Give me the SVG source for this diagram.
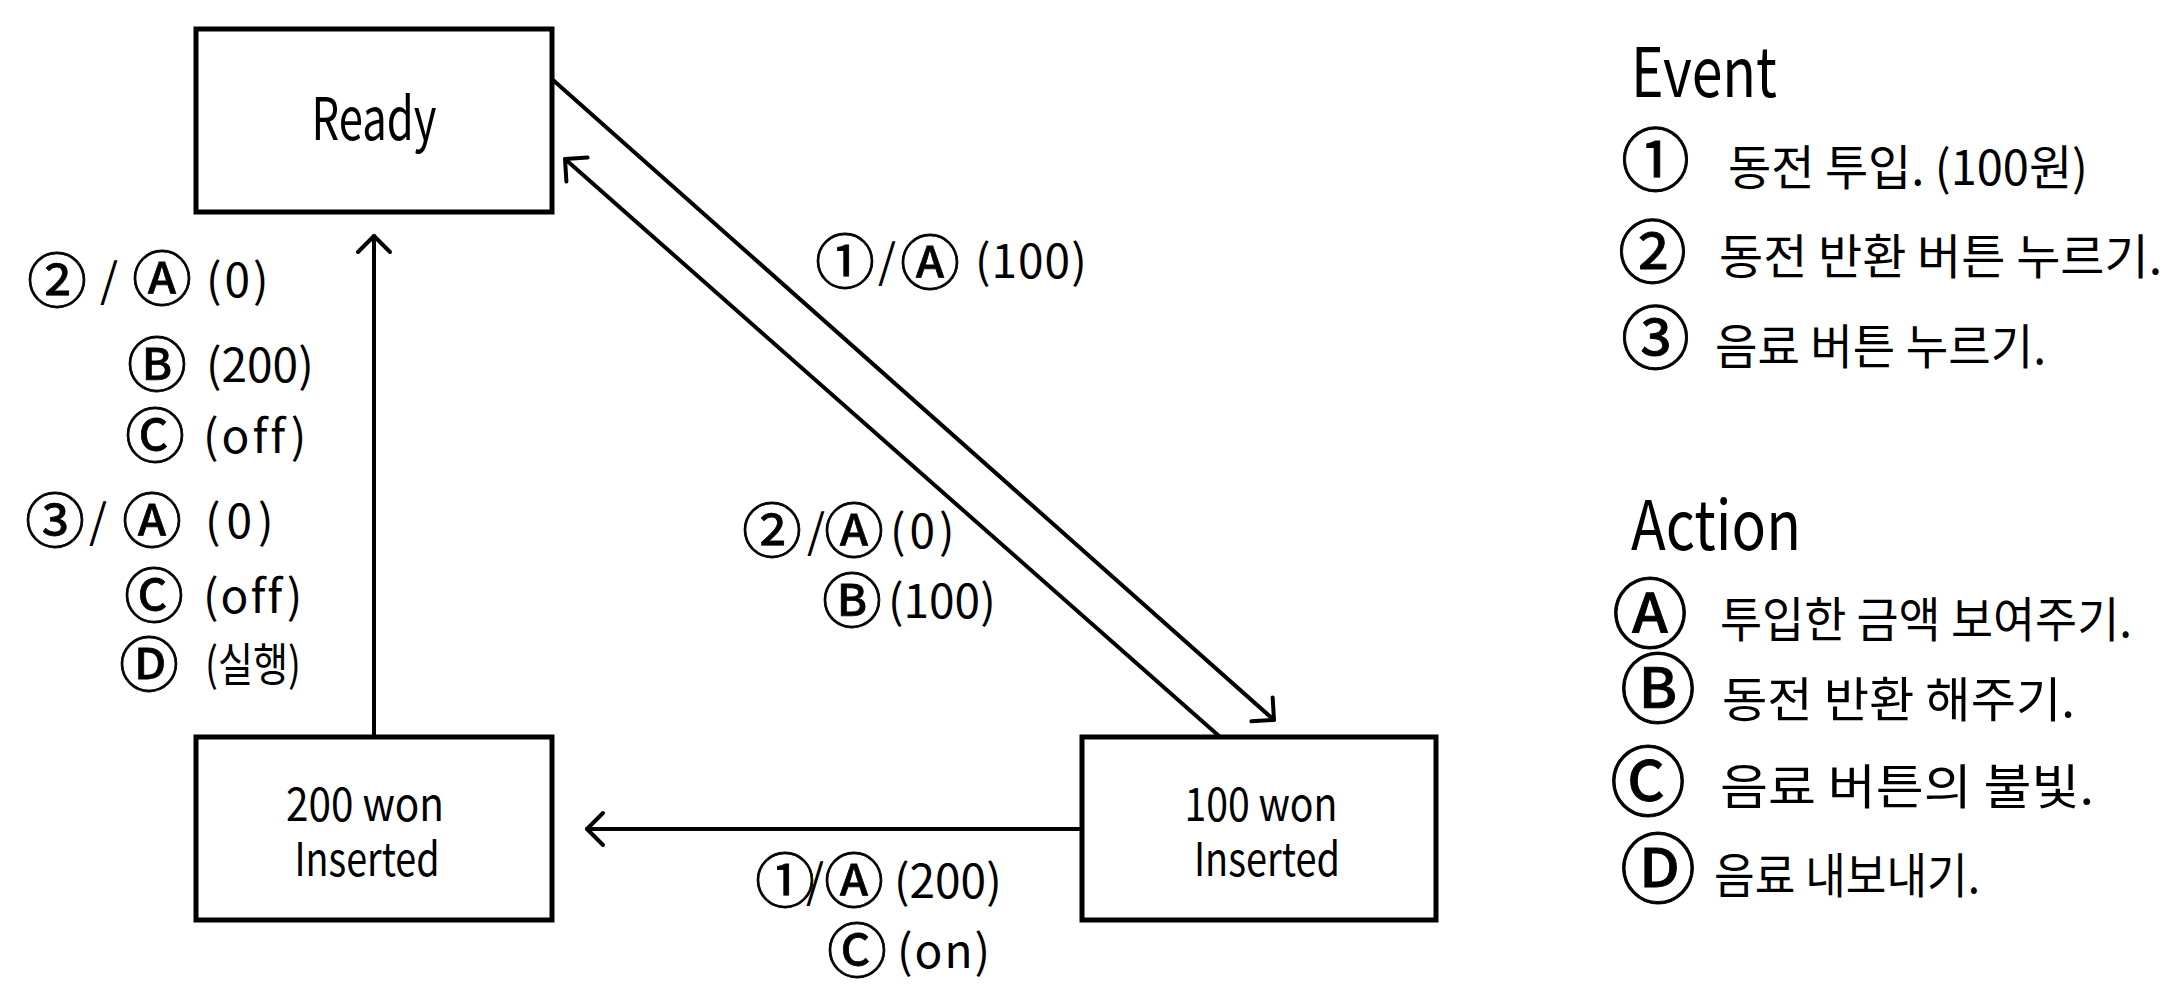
<svg xmlns="http://www.w3.org/2000/svg" width="2177" height="1000" viewBox="0 0 2177 1000">
<style>
.box{fill:#fff;stroke:#000;stroke-width:5}
.edge{fill:none;stroke:#000;stroke-width:4;stroke-linecap:round}
text{font-family:"Noto Sans CJK KR","Noto Sans",sans-serif;fill:#000}
.nt{font-size:59px}
.nt2{font-size:46px}
.lbl{font-size:46px}
.c{font-size:60px;stroke:#000;stroke-width:0.8}
.ttl{font-size:68px}
.lg{font-size:48px}
.lc{font-size:69px;stroke:#000;stroke-width:0.9}
.la{font-size:76px;stroke:#000;stroke-width:1}
</style>
<defs>
<marker id="arr" viewBox="-25 -25 50 50" refX="0" refY="0" markerWidth="50" markerHeight="50" markerUnits="userSpaceOnUse" orient="auto">
<path d="M-16 -16 L0 0 L-16 16" fill="none" stroke="#000" stroke-width="4" stroke-linecap="round" stroke-linejoin="round"/>
</marker>
</defs>
<rect width="2177" height="1000" fill="#fff"/>

<g id="connectors">
<line class="edge" x1="374" y1="737" x2="374" y2="236" marker-end="url(#arr)"/>
<line class="edge" x1="1082" y1="829" x2="587" y2="829" marker-end="url(#arr)"/>
<line class="edge" x1="553" y1="80" x2="1274" y2="720" marker-end="url(#arr)"/>
<line class="edge" x1="1219" y1="736" x2="565" y2="159" marker-end="url(#arr)"/>
</g>

<g id="node-ready">
<rect class="box" x="196" y="29" width="356" height="183"/>
<text class="nt" x="374" y="140" text-anchor="middle" textLength="125" lengthAdjust="spacingAndGlyphs">Ready</text>
</g>
<g id="node-200won">
<rect class="box" x="196" y="737" width="356" height="183"/>
<text class="nt2" x="365" y="821" text-anchor="middle" textLength="158" lengthAdjust="spacingAndGlyphs">200 won</text>
<text class="nt2" x="367" y="876" text-anchor="middle" textLength="145" lengthAdjust="spacingAndGlyphs">Inserted</text>
</g>
<g id="node-100won">
<rect class="box" x="1082" y="737" width="354" height="183"/>
<text class="nt2" x="1261" y="821" text-anchor="middle" textLength="153" lengthAdjust="spacingAndGlyphs">100 won</text>
<text class="nt2" x="1267" y="876" text-anchor="middle" textLength="146" lengthAdjust="spacingAndGlyphs">Inserted</text>
</g>

<g id="labels">
<text class="lbl"><tspan class="c" x="27" y="303">②</tspan><tspan x="100" y="297">/</tspan><tspan class="c" x="132" y="301">Ⓐ</tspan><tspan x="206" y="297" letter-spacing="3">(0)</tspan></text>
<text class="lbl"><tspan class="c" x="127" y="387">Ⓑ</tspan><tspan x="206" y="382">(200)</tspan></text>
<text class="lbl"><tspan class="c" x="125" y="458">Ⓒ</tspan><tspan x="203" y="453" letter-spacing="3">(off)</tspan></text>
<text class="lbl"><tspan class="c" x="25" y="543">③</tspan><tspan x="89" y="538">/</tspan><tspan class="c" x="122" y="543">Ⓐ</tspan><tspan x="205" y="538" letter-spacing="6">(0)</tspan></text>
<text class="lbl"><tspan class="c" x="124" y="618">Ⓒ</tspan><tspan x="203" y="613" letter-spacing="2">(off)</tspan></text>
<text class="lbl"><tspan class="c" x="119" y="687">Ⓓ</tspan><tspan x="205" y="681" textLength="96" lengthAdjust="spacingAndGlyphs">(실행)</tspan></text>

<text class="lbl"><tspan class="c" x="815" y="284">①</tspan><tspan x="878" y="278">/</tspan><tspan class="c" x="900" y="285">Ⓐ</tspan><tspan x="975" y="278" letter-spacing="1">(100)</tspan></text>
<text class="lbl"><tspan class="c" x="742" y="553">②</tspan><tspan x="807" y="548">/</tspan><tspan class="c" x="824" y="553">Ⓐ</tspan><tspan x="890" y="548" letter-spacing="4">(0)</tspan></text>
<text class="lbl"><tspan class="c" x="822" y="623">Ⓑ</tspan><tspan x="888" y="618">(100)</tspan></text>
<text class="lbl"><tspan class="c" x="755" y="903">①</tspan><tspan x="806" y="898">/</tspan><tspan class="c" x="824" y="903">Ⓐ</tspan><tspan x="894" y="898">(200)</tspan></text>
<text class="lbl"><tspan class="c" x="827" y="973">Ⓒ</tspan><tspan x="897" y="968" letter-spacing="2">(on)</tspan></text>
</g>

<g id="legend-event">
<text class="ttl" x="1631" y="97" textLength="146" lengthAdjust="spacingAndGlyphs">Event</text>
<text class="lc" x="1621" y="186">①</text>
<text class="lg" x="1728" y="185" textLength="360" lengthAdjust="spacingAndGlyphs">동전 투입. (100원)</text>
<text class="lc" x="1618" y="278">②</text>
<text class="lg" x="1719" y="274" textLength="443" lengthAdjust="spacingAndGlyphs">동전 반환 버튼 누르기.</text>
<text class="lc" x="1621" y="364">③</text>
<text class="lg" x="1715" y="364" textLength="331" lengthAdjust="spacingAndGlyphs">음료 버튼 누르기.</text>
</g>
<g id="legend-action">
<text class="ttl" x="1631" y="550" textLength="170" lengthAdjust="spacingAndGlyphs">Action</text>
<text class="la" x="1612" y="642">Ⓐ</text>
<text class="lg" x="1720" y="637" textLength="412" lengthAdjust="spacingAndGlyphs">투입한 금액 보여주기.</text>
<text class="la" x="1620" y="717">Ⓑ</text>
<text class="lg" x="1722" y="717" textLength="353" lengthAdjust="spacingAndGlyphs">동전 반환 해주기.</text>
<text class="la" x="1610" y="810">Ⓒ</text>
<text class="lg" x="1720" y="804" textLength="374" lengthAdjust="spacingAndGlyphs">음료 버튼의 불빛.</text>
<text class="la" x="1620" y="897">Ⓓ</text>
<text class="lg" x="1714" y="893" textLength="266" lengthAdjust="spacingAndGlyphs">음료 내보내기.</text>
</g>
</svg>
